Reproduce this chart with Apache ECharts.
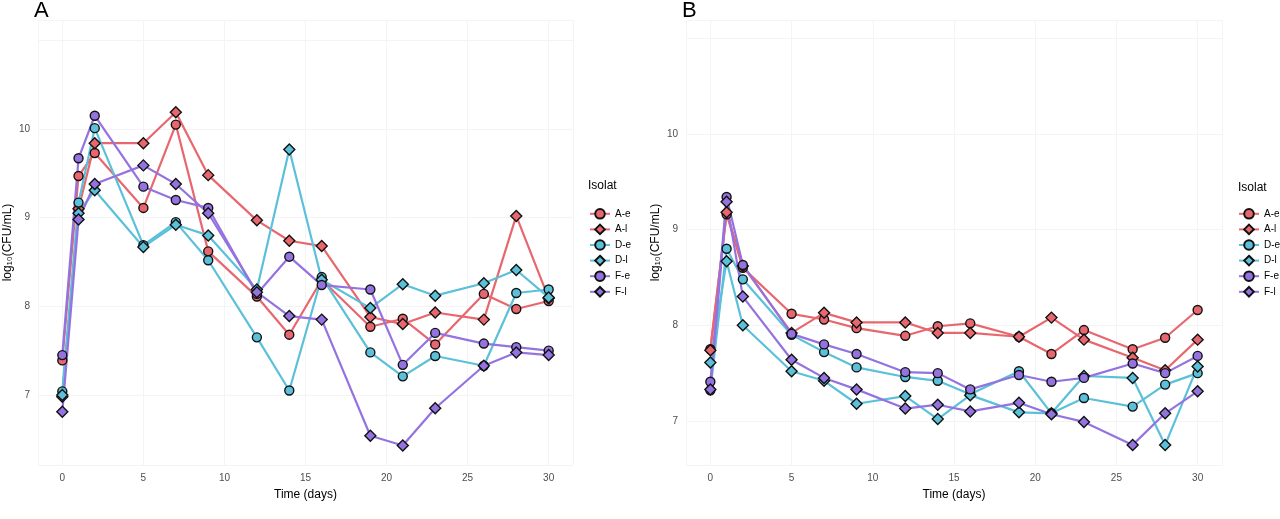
<!DOCTYPE html>
<html><head><meta charset="utf-8">
<script src="https://cdn.jsdelivr.net/npm/echarts@6/dist/echarts.min.js"></script>
<style>html,body{margin:0;background:#fff}#c{width:1280px;height:519px}</style>
</head><body><div id="c"></div>
<script>
const days = [0,1,2,5,7,9,12,14,16,19,21,23,26,28,30];
const isolates = ['A-e','A-l','D-e','D-l','F-e','F-l'];
const xTicks = [0,5,10,15,20,25,30];
const yTicks = [7,8,9,10];
// Panel A
const A_Ae = [7.39,9.47,9.73,9.11,10.05,8.62,8.11,7.68,8.30,7.77,7.86,7.57,8.14,7.97,8.06];
const A_Al = [6.98,9.10,9.84,9.84,10.19,9.48,8.97,8.74,8.68,7.88,7.80,7.93,7.85,9.02,8.09];
const A_De = [7.04,9.17,10.01,8.69,8.95,8.52,7.65,7.05,8.33,7.48,7.21,7.44,7.33,8.15,8.19];
const A_Dl = [7.00,9.05,9.31,8.67,8.92,8.80,8.19,9.77,8.30,7.98,8.25,8.12,8.26,8.41,8.10];
const A_Fe = [7.45,9.67,10.15,9.35,9.20,9.11,8.14,8.56,8.24,8.19,7.34,7.70,7.58,7.54,7.50];
const A_Fl = [6.81,8.98,9.38,9.59,9.38,9.05,8.16,7.89,7.85,6.54,6.43,6.85,7.33,7.48,7.45];
// Panel B
const B_Ae = [7.75,9.16,8.60,8.12,8.06,7.97,7.89,7.99,8.02,7.88,7.70,7.95,7.75,7.87,8.16];
const B_Al = [7.74,9.18,8.62,7.92,8.13,8.03,8.03,7.92,7.92,7.88,8.08,7.85,7.66,7.53,7.85];
const B_De = [7.32,8.80,8.48,7.90,7.72,7.56,7.46,7.42,7.28,7.52,7.08,7.24,7.15,7.38,7.50];
const B_Dl = [7.61,8.67,8.00,7.52,7.42,7.18,7.26,7.02,7.27,7.09,7.08,7.47,7.45,6.75,7.57];
const B_Fe = [7.41,9.34,8.63,7.91,7.80,7.70,7.51,7.50,7.33,7.48,7.41,7.45,7.60,7.50,7.68];
const B_Fl = [7.33,9.29,8.30,7.64,7.45,7.33,7.13,7.17,7.10,7.19,7.07,6.99,6.75,7.08,7.31];

const colors = ['#E8676E','#E8676E','#5BC0DA','#5BC0DA','#9473E0','#9473E0'];
const symbols = ['circle','diamond','circle','diamond','circle','diamond'];
const dataA = [A_Ae,A_Al,A_De,A_Dl,A_Fe,A_Fl];
const dataB = [B_Ae,B_Al,B_De,B_Dl,B_Fe,B_Fl];

const font = 'Liberation Sans, Arial, sans-serif';
const grids = [
  {left:38, top:20, width:535, height:445},
  {left:686, top:20, width:536, height:445}
];
const yRange = [[6.21,11.23],[6.54,11.19]];
const xMinor = [2.5,7.5,12.5,17.5,22.5,27.5];
const yMinor = [6.5,7.5,8.5,9.5,10.5,11];

const xAxis = [], yAxis = [];
[0,1].forEach(g=>{
  xAxis.push({type:'value', gridIndex:g, min:-1.5, max:31.5,
    axisLine:{show:false}, axisTick:{show:false},
    axisLabel:{customValues:xTicks, color:'#4d4d4d', fontSize:10, fontFamily:font, margin:8},
    splitLine:{show:true, lineStyle:{color:'#ebebeb', width:1}},
    name:'Time (days)', nameLocation:'middle', nameGap:24,
    nameTextStyle:{color:'#000', fontSize:12, fontFamily:font}});
  xAxis.push({type:'value', gridIndex:g, min:-1.5, max:31.5, show:true,
    axisLine:{show:false}, axisTick:{show:false}, axisLabel:{show:false, customValues:xMinor},
    splitLine:{show:true, lineStyle:{color:'#f4f4f4', width:1}}});
  yAxis.push({type:'value', gridIndex:g, min:yRange[g][0], max:yRange[g][1],
    axisLine:{show:false}, axisTick:{show:false},
    axisLabel:{customValues:yTicks, color:'#4d4d4d', fontSize:10, fontFamily:font, margin:8},
    splitLine:{show:true, lineStyle:{color:'#ebebeb', width:1}},
    name:'log\u2081\u2080(CFU/mL)', nameLocation:'middle', nameGap:24,
    nameTextStyle:{color:'#000', fontSize:12, fontFamily:font}});
  yAxis.push({type:'value', gridIndex:g, min:yRange[g][0], max:yRange[g][1], show:true,
    axisLine:{show:false}, axisTick:{show:false}, axisLabel:{show:false, customValues:yMinor},
    splitLine:{show:true, lineStyle:{color:'#f4f4f4', width:1}}});
});

const series = [];
[dataA, dataB].forEach((d,g)=>{
  isolates.forEach((name,i)=>{
    series.push({type:'line', name, xAxisIndex:g*2, yAxisIndex:g*2,
      data:days.map((t,k)=>[t,d[i][k]]),
      symbol:symbols[i], symbolSize:symbols[i]==='circle'?9:11,
      lineStyle:{color:colors[i], width:2.2},
      itemStyle:{color:colors[i], borderColor:'#111', borderWidth:1.4},
      emphasis:{disabled:true}, animation:false, z:3});
  });
});

const legendBase = {orient:'vertical', top:203, itemWidth:20, itemHeight:12, itemGap:4,
  textStyle:{fontSize:10, color:'#000', fontFamily:font}, data:isolates, selectedMode:false};

const chart = echarts.init(document.getElementById('c'));
chart.setOption({
  backgroundColor:'#fff',
  grid:grids, xAxis, yAxis, series,
  legend:[Object.assign({left:584}, legendBase), Object.assign({left:1233}, legendBase)],
  graphic:[
    {type:'text', left:34, top:0, style:{text:'A', fontSize:22, fontFamily:font, fill:'#000'}},
    {type:'text', left:682, top:0, style:{text:'B', fontSize:22, fontFamily:font, fill:'#000'}},
    {type:'text', left:588, top:180, style:{text:'Isolat', fontSize:12, fontFamily:font, fill:'#000'}},
    {type:'text', left:1238, top:182, style:{text:'Isolat', fontSize:12, fontFamily:font, fill:'#000'}}
  ]
});
</script></body></html>
